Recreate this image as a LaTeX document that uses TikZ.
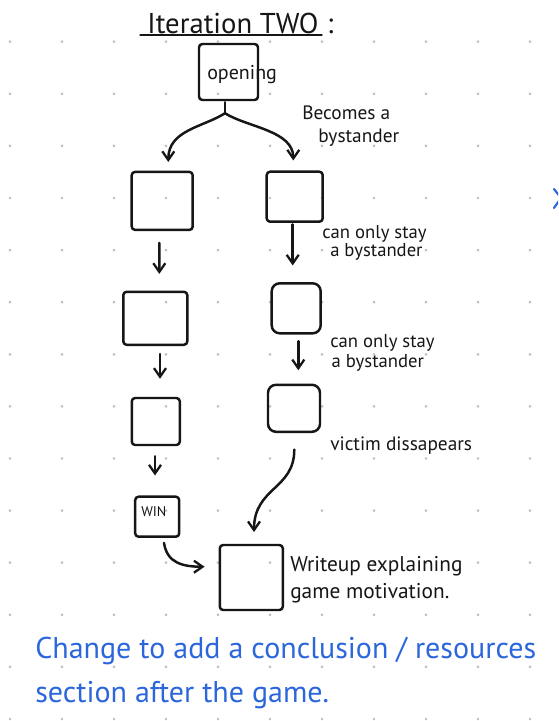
\documentclass[tikz,border=0pt]{standalone}
\usepackage{fontspec}
\setmainfont{PT Sans}
\usetikzlibrary{arrows.meta,calc}
\definecolor{ink}{RGB}{22,22,22}
\definecolor{pen}{RGB}{44,102,220}
\definecolor{dotc}{RGB}{190,190,190}

\begin{document}
\begin{tikzpicture}[x=0.75pt,y=-0.75pt,
  stroke/.style={draw=ink, line width=1.85pt, line cap=round, line join=round},
  box/.style={stroke, rounded corners=2.5pt, inner sep=0pt},
  sz/.style 2 args={minimum width=#1*0.75pt, minimum height=#2*0.75pt},
  arr/.style={stroke, -{Straight Barb[length=6.5pt,width=9pt,line width=1.7pt]}},
  note/.style={text=ink, align=left, anchor=west, inner sep=0pt},
]
% page and dotted grid
\clip (0,0) rectangle (558,721);
\fill[white] (0,0) rectangle (558,721);
\foreach \i in {0,...,10}
  \foreach \j in {0,...,13}
    \fill[dotc] (10+52*\i, 41.7+52.1*\j) circle[radius=1.1pt];

% heading
\node[inner sep=0pt, text=ink, font=\fontsize{21.5}{24}\selectfont] (title) at (233,23) {Iteration TWO};
\node[anchor=base west, inner sep=0pt, text=ink, font=\fontsize{21.5}{24}\selectfont] (colon) at ($(title.base east)+(8,0)$) {:};
\draw[stroke, line width=1.4pt] ($(title.base west)+(-7,2)$) -- ($(title.base east)+(3,2)$);

% boxes
\node[box, sz={59}{56}] (opening) at (228.5,72) {};
\node[note, font=\fontsize{15}{17}\selectfont] (opentxt) at (207,75) {opening};

\node[box, sz={61}{58}] (L1) at (162.2,200.9) {};
\node[box, sz={64}{53}] (L2) at (155.3,318.3) {};
\node[box, sz={48}{47}] (L3) at (155.8,421.5) {};
\node[box, sz={44}{40}] (win) at (157.2,516.7) {};
\node[note, font=\fontsize{10.5}{12}\selectfont] (wintxt) at (141,512) {WIN};

\node[box, sz={56}{50}] (R1) at (294.7,196.7) {};
\node[box, rounded corners=6pt, sz={49}{50}] (R2) at (296.2,308.3) {};
\node[box, rounded corners=6pt, sz={52}{47}] (R3) at (294,408.3) {};

\node[box, sz={63}{65}] (final) at (251.3,577.5) {};

% branch out of the opening
\coordinate (fork) at ($(opening.south)+(-3.5,12)$);
\draw[stroke] ($(opening.south)+(-3.5,1)$) -- (fork);
\draw[arr] (fork) .. controls +(-22,14) and +(0,-32) .. ($(L1.north)+(6.1,-8.7)$);
\draw[arr] (fork) .. controls +(22,14) and +(0,-30) .. ($(R1.north)+(-1.4,-10)$);

% left column
\draw[arr] ($(L1.south)+(-2.9,11.7)$) -- ($(L2.north)+(4,-16.7)$);
\draw[arr] ($(L2.south)+(4.7,8)$) -- ($(L3.north)+(4.2,-18)$);
\draw[arr] ($(L3.south)+(-0.8,10)$) -- ($(win.north)+(-2.2,-20)$);
\draw[arr] ($(win.south)+(6.8,5)$) .. controls +(3,20) and +(-22,0) .. ($(final.west)+(-14,-10.8)$);

% right column
\draw[arr] ($(R1.south)+(-2,1.5)$) -- ($(R2.north)+(-3.5,-16.6)$);
\draw[arr] ($(R2.south)+(2.1,6.7)$) -- ($(R3.north)+(4.3,-13.3)$);
\draw[arr] ($(R3.south)+(0.3,16.6)$) .. controls +(0,40) and +(0,-45) .. ($(final.north)+(2.7,-11.7)$);

% labels
\node[note, font=\fontsize{14.5}{17}\selectfont] (lbA) at (302,126) {Becomes a\\\hspace*{12pt}bystander};
\node[note, font=\fontsize{14}{13.5}\selectfont] (lbB) at (322,243) {can only stay\\\hspace*{6pt}a bystander};
\node[note, font=\fontsize{14}{15.5}\selectfont] (lbC) at (330,353) {can only stay\\\hspace*{1pt}a bystander};
\node[note, font=\fontsize{14.5}{16}\selectfont] (lbD) at (330,446) {victim dissapears};
\node[note, font=\fontsize{16}{20}\selectfont] (lbE) at (290,580) {Writeup explaining\\game motivation.};

% remark in blue
\node[anchor=north west, inner sep=0pt, align=left, text=pen, font=\fontsize{22.5}{33}\selectfont] (remark) at (35,637)
  {Change to add a conclusion / resources\\section after the game.};
\draw[pen, line width=1.6pt, line cap=round, line join=round] (554,189) -- (561,198) -- (554,208);
\end{tikzpicture}
\end{document}
